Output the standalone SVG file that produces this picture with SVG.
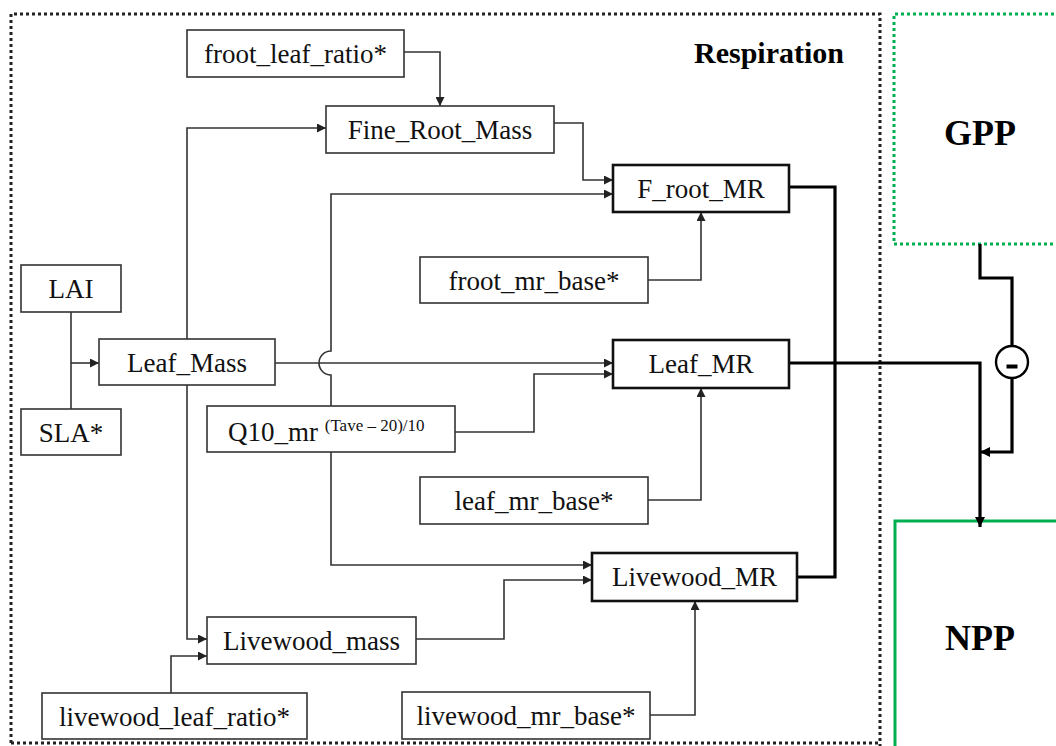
<svg xmlns="http://www.w3.org/2000/svg" width="1056" height="746" viewBox="0 0 1056 746">
<defs>
<marker id="a" viewBox="0 0 10 10" refX="10" refY="5" markerWidth="11" markerHeight="9" markerUnits="userSpaceOnUse" orient="auto"><path d="M0,0 L10,5 L0,10 z" fill="#222"/></marker>
<marker id="b" viewBox="0 0 10 10" refX="10" refY="5" markerWidth="13" markerHeight="10" markerUnits="userSpaceOnUse" orient="auto"><path d="M0,0 L10,5 L0,10 z" fill="#000"/></marker>
<style>
.box{fill:#fff;stroke:#333;stroke-width:1.6}
.mr{fill:#fff;stroke:#111;stroke-width:2.6}
.t{font-family:"Liberation Serif","Times New Roman",serif;font-size:27px;fill:#111;text-anchor:middle}
.ts{font-family:"Liberation Serif","Times New Roman",serif;font-size:27px;fill:#111;text-anchor:start}
.sup{font-size:17px}
.big{font-family:"Liberation Serif","Times New Roman",serif;font-weight:bold;fill:#000;text-anchor:middle}
.c{fill:none;stroke:#333;stroke-width:1.6}
.k{fill:none;stroke:#000;stroke-width:3.2}
</style>
</defs>
<g id="frames">
<path d="M11,743 V14 H880 V746" fill="none" stroke="#222" stroke-width="3" stroke-dasharray="3 3"/>
<path d="M11,743 H880" fill="none" stroke="#222" stroke-width="3" stroke-dasharray="3 3"/>
<text class="big" x="769" y="63" font-size="30">Respiration</text>
</g>
<g id="gpp">
<path d="M1060,14 H894 V244 H1060" fill="none" stroke="#00b050" stroke-width="3" stroke-dasharray="3 3"/>
<text class="big" x="980" y="145" font-size="36">GPP</text>
</g>
<g id="npp">
<path d="M895,750 V521 H1060" fill="none" stroke="#00b050" stroke-width="3"/>
<text class="big" x="980" y="650" font-size="36">NPP</text>
</g>
<g id="connectors">
<path class="c" d="M404,52 H440 V106" marker-end="url(#a)"/>
<path class="c" d="M187,339 V128 H326" marker-end="url(#a)"/>
<path class="c" d="M187,385 V639 H207" marker-end="url(#a)"/>
<path class="c" d="M554,123 H583 V180 H613" marker-end="url(#a)"/>
<path class="c" d="M331,406 V375 A12,12 0 0 1 331,351 V194 H613" marker-end="url(#a)"/>
<path class="c" d="M648,280 H701 V212" marker-end="url(#a)"/>
<path class="c" d="M275,363 H613" marker-end="url(#a)"/>
<path class="c" d="M455,432 H534 V374 H613" marker-end="url(#a)"/>
<path class="c" d="M648,500 H701 V388" marker-end="url(#a)"/>
<path class="c" d="M331,452 V565 H592" marker-end="url(#a)"/>
<path class="c" d="M416,639 H504 V580 H592" marker-end="url(#a)"/>
<path class="c" d="M171,693 V656 H207" marker-end="url(#a)"/>
<path class="c" d="M650,715 H695 V601" marker-end="url(#a)"/>
<path class="c" d="M71,312 V409"/>
<path class="c" d="M71,363 H99" marker-end="url(#a)"/>
<path class="k" d="M789,187 H835 V577 H797"/>
<path class="k" d="M789,363 H980 V527" marker-end="url(#b)"/>
<path class="k" d="M980,244 V278 H1012 V346"/>
<path class="k" d="M1012,378 V452 H980" marker-end="url(#b)"/>
<circle cx="1012" cy="362" r="16" fill="#fff" stroke="#000" stroke-width="2.4"/>
<rect x="1006.5" y="364.5" width="11" height="4" fill="#000"/>
</g>
<g id="froot_leaf_ratio"><rect class="box" x="187" y="30" width="217" height="47"/><text class="t" x="295.5" y="63">froot_leaf_ratio*</text></g>
<g id="Fine_Root_Mass"><rect class="box" x="326" y="106" width="228" height="47"/><text class="t" x="440" y="139">Fine_Root_Mass</text></g>
<g id="F_root_MR"><rect class="mr" x="613" y="165" width="176" height="47"/><text class="t" x="701" y="198">F_root_MR</text></g>
<g id="froot_mr_base"><rect class="box" x="420" y="257" width="228" height="46"/><text class="t" x="534" y="290">froot_mr_base*</text></g>
<g id="LAI"><rect class="box" x="21" y="265" width="100" height="47"/><text class="t" x="71" y="298">LAI</text></g>
<g id="SLA"><rect class="box" x="21" y="409" width="100" height="46"/><text class="t" x="71" y="442">SLA*</text></g>
<g id="Leaf_Mass"><rect class="box" x="99" y="339" width="176" height="46"/><text class="t" x="187" y="372">Leaf_Mass</text></g>
<g id="Leaf_MR"><rect class="mr" x="613" y="340" width="176" height="48"/><text class="t" x="701" y="373">Leaf_MR</text></g>
<g id="Q10_mr"><rect class="box" x="207" y="406" width="248" height="46"/><text class="ts" x="228" y="441">Q10_mr <tspan class="sup" dy="-10">(Tave – 20)/10</tspan></text></g>
<g id="leaf_mr_base"><rect class="box" x="420" y="477" width="228" height="47"/><text class="t" x="534" y="510">leaf_mr_base*</text></g>
<g id="Livewood_MR"><rect class="mr" x="592" y="553" width="205" height="48"/><text class="t" x="694.5" y="586">Livewood_MR</text></g>
<g id="Livewood_mass"><rect class="box" x="207" y="617" width="209" height="47"/><text class="t" x="311.5" y="650">Livewood_mass</text></g>
<g id="livewood_leaf_ratio"><rect class="box" x="42" y="693" width="265" height="46"/><text class="t" x="174.5" y="726">livewood_leaf_ratio*</text></g>
<g id="livewood_mr_base"><rect class="box" x="402" y="692" width="248" height="47"/><text class="t" x="526" y="725">livewood_mr_base*</text></g>
</svg>
